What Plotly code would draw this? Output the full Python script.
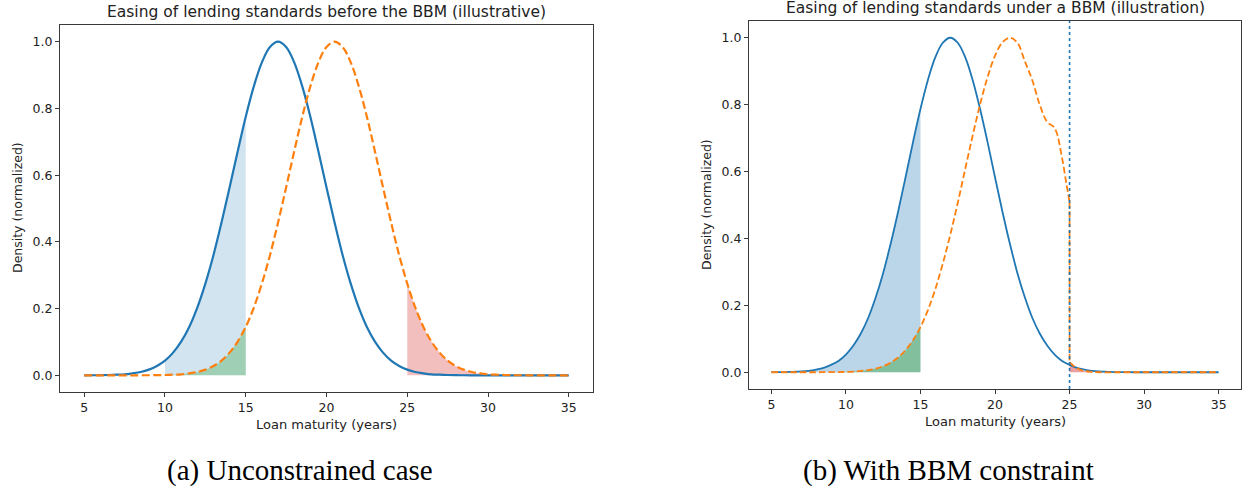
import plotly.graph_objects as go

# ---------------- data ----------------
x_grid = [5, 5.5, 6, 6.5, 7, 7.5, 8, 8.5, 9, 9.5, 10, 10.5, 11, 11.5, 12, 12.5,
          13, 13.5, 14, 14.5, 15, 15.5, 16, 16.5, 17, 17.5, 18, 18.5, 19, 19.5,
          20, 20.5, 21, 21.5, 22, 22.5, 23, 23.5, 24, 24.5, 25, 25.5, 26, 26.5,
          27, 27.5, 28, 28.5, 29, 29.5, 30, 30.5, 31, 31.5, 32, 32.5, 33, 33.5,
          34, 34.5, 35]

# Panel (a): unconstrained
a_blue = [0.0001, 0.0002, 0.0004, 0.001, 0.002, 0.003, 0.006, 0.010, 0.017, 0.028,
          0.044, 0.068, 0.101, 0.145, 0.203, 0.275, 0.360, 0.458, 0.563, 0.671,
          0.775, 0.866, 0.938, 0.984, 1.0, 0.984, 0.938, 0.866, 0.775, 0.671,
          0.563, 0.458, 0.360, 0.275, 0.203, 0.145, 0.101, 0.068, 0.044, 0.028,
          0.017, 0.010, 0.006, 0.003, 0.002, 0.001, 0.0004, 0.0002, 0.0001, 0,
          0, 0, 0, 0, 0, 0, 0, 0, 0, 0, 0]
a_orange = [0, 0, 0, 0, 0, 0, 0, 0.0001, 0.0002, 0.0004,
            0.001, 0.002, 0.003, 0.006, 0.010, 0.017, 0.028, 0.044, 0.068, 0.101,
            0.145, 0.203, 0.275, 0.360, 0.458, 0.563, 0.671, 0.775, 0.866, 0.938,
            0.984, 1.0, 0.984, 0.938, 0.866, 0.775, 0.671, 0.563, 0.458, 0.360,
            0.275, 0.203, 0.145, 0.101, 0.068, 0.044, 0.028, 0.017, 0.010, 0.006,
            0.003, 0.002, 0.001, 0.0004, 0.0002, 0.0001, 0, 0, 0, 0, 0]

# Panel (b): with BBM constraint
b_blue = [0.0002, 0.0004, 0.0007, 0.0014, 0.0025, 0.0045, 0.008, 0.013, 0.022,
          0.034, 0.053, 0.080, 0.116, 0.163, 0.224, 0.297, 0.384, 0.480, 0.583,
          0.688, 0.787, 0.874, 0.942, 0.985, 1.0, 0.985, 0.942, 0.874, 0.787,
          0.688, 0.583, 0.480, 0.384, 0.297, 0.224, 0.163, 0.116, 0.080, 0.053,
          0.034, 0.022, 0.013, 0.008, 0.0045, 0.0025, 0.0014, 0.0007, 0.0004, 0.0002,
          0.0001, 0, 0, 0, 0, 0, 0, 0, 0, 0, 0, 0]

b_orange_x = [5, 6, 7, 8, 8.5, 9, 9.5, 10, 10.5, 11, 11.5, 12, 12.5, 13, 13.5, 14,
              14.5, 15, 15.5, 16, 16.5, 17, 17.5, 18, 18.5, 19, 19.5, 20, 20.5, 21,
              21.5, 22, 22.5, 23, 23.5, 24, 24.5, 24.8, 25]
b_orange = [0, 0, 0, 0.0001, 0.0002, 0.0003, 0.0006, 0.0012, 0.0022, 0.0039, 0.0067,
            0.011, 0.018, 0.029, 0.044, 0.066, 0.096, 0.135, 0.186, 0.249, 0.325,
            0.411, 0.506, 0.607, 0.707, 0.801, 0.882, 0.946, 0.986, 1.0, 0.985,
            0.93, 0.873, 0.80, 0.748, 0.73, 0.64, 0.56, 0.51]
# tail of the constrained distribution beyond the limit (after the drop)
b_tail_x = [25, 25.5, 26, 26.5, 27, 28, 30, 35]
b_tail = [0.03, 0.012, 0.004, 0.001, 0, 0, 0, 0]

bbm_limit = 25
fill_low = (10, 15)
fill_low_b = (5, 15)
fill_high = 25

x_ticks = [5, 10, 15, 20, 25, 30, 35]
y_ticks = [0.0, 0.2, 0.4, 0.6, 0.8, 1.0]

title_a = "Easing of lending standards before the BBM (illustrative)"
title_b = "Easing of lending standards under a BBM (illustration)"
caption_a = "(a) Unconstrained case"
caption_b = "(b) With BBM constraint"
x_label = "Loan maturity (years)"
y_label = "Density (normalized)"

# ---------------- figure ----------------
W, H = 1248, 492
BLUE = "#1f77b4"
ORANGE = "#ff7f0e"
FONT = "DejaVu Sans"


def sub(xs, ys, lo, hi):
    pts = [(x, y) for x, y in zip(xs, ys) if lo <= x <= hi]
    return [p[0] for p in pts], [p[1] for p in pts]


fig = go.Figure()

def fill(xs, ys, color, xa, ya):
    fig.add_trace(go.Scatter(x=xs, y=ys, fill="tozeroy", mode="lines",
                             line=dict(width=0, shape="spline"), fillcolor=color,
                             xaxis=xa, yaxis=ya, hoverinfo="skip"))

# ---- panel (a) fills ----
fill(*sub(x_grid, a_blue, *fill_low), "rgba(31,119,180,0.2)", "x", "y")
fill(*sub(x_grid, a_orange, *fill_low), "rgba(44,160,44,0.3)", "x", "y")
fill(*sub(x_grid, a_orange, fill_high, 35), "rgba(214,39,40,0.3)", "x", "y")
# ---- panel (a) lines ----
fig.add_trace(go.Scatter(x=x_grid, y=a_blue, mode="lines", line=dict(color=BLUE, width=2.2, shape="spline"),
                         xaxis="x", yaxis="y"))
fig.add_trace(go.Scatter(x=x_grid, y=a_orange, mode="lines",
                         line=dict(color=ORANGE, width=2.2, dash="8px,3.5px", shape="spline"),
                         xaxis="x", yaxis="y"))

# ---- panel (b) fills ----
fill(*sub(x_grid, b_blue, *fill_low_b), "rgba(31,119,180,0.3)", "x2", "y2")
fill(*sub(b_orange_x, b_orange, *fill_low_b), "rgba(44,160,44,0.4)", "x2", "y2")
fill(b_tail_x, b_tail, "rgba(214,39,40,0.45)", "x2", "y2")
# ---- panel (b) lines ----
fig.add_trace(go.Scatter(x=x_grid, y=b_blue, mode="lines", line=dict(color=BLUE, width=1.8, shape="spline"),
                         xaxis="x2", yaxis="y2"))
ORANGE_B = dict(color=ORANGE, width=1.8, dash="6.5px,3px")
fig.add_trace(go.Scatter(x=b_orange_x, y=b_orange, mode="lines",
                         line=dict(shape="spline", **ORANGE_B), xaxis="x2", yaxis="y2"))
# vertical drop at the limit
fig.add_trace(go.Scatter(x=[b_orange_x[-1], b_tail_x[0]], y=[b_orange[-1], b_tail[0]], mode="lines",
                         line=dict(shape="linear", **ORANGE_B), xaxis="x2", yaxis="y2"))
fig.add_trace(go.Scatter(x=b_tail_x, y=b_tail, mode="lines",
                         line=dict(shape="spline", **ORANGE_B), xaxis="x2", yaxis="y2"))

fig.add_shape(type="line", xref="x2", yref="y2 domain", x0=bbm_limit, x1=bbm_limit, y0=0, y1=1,
              line=dict(color=BLUE, width=1.6, dash="dot"))

# ---- axes ----
axis_common = dict(showline=True, linecolor="#3a3a3a", linewidth=1, mirror=True, ticks="outside",
                   ticklen=4, tickwidth=1, tickcolor="#3a3a3a", showgrid=False, zeroline=False,
                   tickfont=dict(family=FONT, size=12.5, color="#222"))

def px_x(p):
    return p / W

def px_y(p):
    return 1 - p / H

fig.update_layout(
    width=W, height=H, margin=dict(l=0, r=0, t=0, b=0),
    paper_bgcolor="white", plot_bgcolor="white", showlegend=False,
    xaxis=dict(domain=[px_x(60), px_x(593)], range=[3.5, 36.5], tickvals=x_ticks, anchor="y", **axis_common),
    yaxis=dict(domain=[px_y(392), px_y(25)], range=[-0.05, 1.05], tickvals=y_ticks, tickformat=".1f",
               anchor="x", **axis_common),
    xaxis2=dict(domain=[px_x(749), px_x(1241)], range=[3.5, 36.5], tickvals=x_ticks, anchor="y2", **axis_common),
    yaxis2=dict(domain=[px_y(389), px_y(21)], range=[-0.05, 1.05], tickvals=y_ticks, tickformat=".1f",
                anchor="x2", **axis_common),
)

def ann(text, x, y, size, family=FONT, angle=0, color="#222"):
    fig.add_annotation(text=text, xref="paper", yref="paper", x=px_x(x), y=px_y(y),
                       xanchor="center", yanchor="middle", showarrow=False, textangle=angle,
                       font=dict(family=family, size=size, color=color))

ann(title_a, 326, 12, 15.5)
ann(title_b, 995, 8, 15.5)
ann(x_label, 326, 424, 13)
ann(x_label, 995, 421, 13)
ann(y_label, 17, 208, 12.5, angle=-90)
ann(y_label, 706, 205, 12.5, angle=-90)
ann(caption_a, 300, 470, 29, family="Liberation Serif", color="black")
ann(caption_b, 948, 470, 29, family="Liberation Serif", color="black")

fig.write_html("out.html")
